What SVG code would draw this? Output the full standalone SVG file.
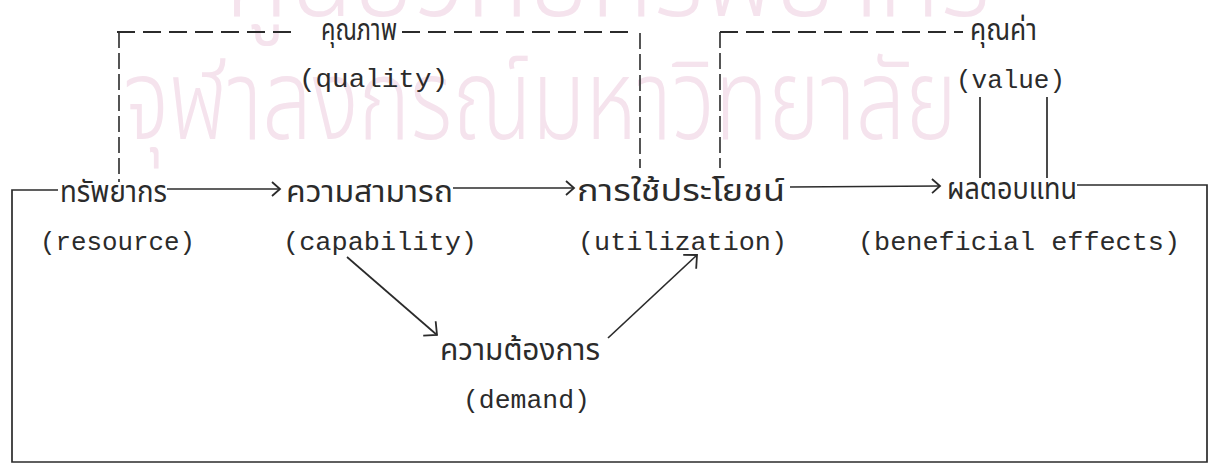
<svg xmlns="http://www.w3.org/2000/svg" width="1209" height="464" viewBox="0 0 1209 464">
  <style>
    .th { font-family: "TlwgTypewriter", "Tlwg Typewriter", "Noto Sans Thai", "Loma", "Garuda", "Noto Sans", sans-serif; font-size: 30px; fill: #2b2b2b; }
    .en { font-family: "Liberation Mono", "Courier New", monospace; font-size: 26px; fill: #2b2b2b; }
    .wm { font-family: "Noto Sans Thai", "Loma", "Garuda", "Noto Sans", sans-serif; font-size: 112px; font-weight: 300; fill: #f5e3ed; }
    .ln { fill: none; stroke: #2b2b2b; stroke-width: 1.7; }
    .dh { fill: none; stroke: #2b2b2b; stroke-width: 1.8; stroke-dasharray: 18 8; }
    .dv { fill: none; stroke: #2b2b2b; stroke-width: 1.6; stroke-dasharray: 16 5; }
  </style>
  <defs>
    <marker id="ah" markerUnits="userSpaceOnUse" markerWidth="20" markerHeight="20" refX="0" refY="0" viewBox="-12 -10 14 20" orient="auto">
      <path d="M-8,-7 L0,0 L-8,7" fill="none" stroke="#2b2b2b" stroke-width="1.8"/>
    </marker>
    <marker id="ahd" markerUnits="userSpaceOnUse" markerWidth="24" markerHeight="24" refX="0" refY="0" viewBox="-14 -12 16 24" orient="auto">
      <path d="M-10,-9.5 L0,0 L-10,9.5" fill="none" stroke="#2b2b2b" stroke-width="1.8"/>
    </marker>
  </defs>
  <rect width="1209" height="464" fill="#ffffff"/>

  <g id="watermark">
    <text class="wm" x="225" y="16" textLength="765" lengthAdjust="spacingAndGlyphs">ศูนย์วิทยทรัพยากร</text>
    <text class="wm" x="123" y="139" textLength="834" lengthAdjust="spacingAndGlyphs">จุฬาลงกรณ์มหาวิทยาลัย</text>
  </g>

  <g id="connectors">
    <path class="ln" d="M58,190 L12,190 L12,462 L1207,462 L1207,185 L1077,185"/>
    <path class="ln" d="M167,189 L280,189" marker-end="url(#ah)"/>
    <path class="ln" d="M453,188 L574,188" marker-end="url(#ah)"/>
    <path class="ln" d="M790,187 L940,186" marker-end="url(#ah)"/>
    <path class="ln" d="M347,257 L437,335" marker-end="url(#ahd)"/>
    <path class="ln" d="M608,338 L697,255" marker-end="url(#ahd)"/>
    <path class="dh" d="M117,32 L295,32"/>
    <path class="dh" d="M402,32 L634,32"/>
    <path class="dh" d="M720,32 L963,32"/>
    <path class="dv" d="M119,32 L119,182"/>
    <path class="dv" d="M640,33 L640,168"/>
    <path class="dv" d="M720,32 L720,168"/>
    <path class="ln" d="M980,97 L980,178"/>
    <path class="ln" d="M1047,97 L1047,178"/>
  </g>

  <g id="node-resource">
    <text class="th" x="60" y="202" textLength="107" lengthAdjust="spacingAndGlyphs">ทรัพยากร</text>
    <text class="en" x="40" y="250" textLength="155" lengthAdjust="spacingAndGlyphs">(resource)</text>
  </g>
  <g id="node-capability">
    <text class="th" x="286" y="202" textLength="167" lengthAdjust="spacingAndGlyphs">ความสามารถ</text>
    <text class="en" x="283" y="250" textLength="194" lengthAdjust="spacingAndGlyphs">(capability)</text>
  </g>
  <g id="node-utilization">
    <text class="th" x="577" y="201" textLength="208" lengthAdjust="spacingAndGlyphs">การใช้ประโยชน์</text>
    <text class="en" x="578" y="250" textLength="209" lengthAdjust="spacingAndGlyphs">(utilization)</text>
  </g>
  <g id="node-beneficial">
    <text class="th" x="947" y="199" textLength="130" lengthAdjust="spacingAndGlyphs">ผลตอบแทน</text>
    <text class="en" x="858" y="250" textLength="322" lengthAdjust="spacingAndGlyphs">(beneficial effects)</text>
  </g>
  <g id="node-demand">
    <text class="th" x="440" y="360" textLength="160" lengthAdjust="spacingAndGlyphs">ความต้องการ</text>
    <text class="en" x="463" y="408" textLength="127" lengthAdjust="spacingAndGlyphs">(demand)</text>
  </g>
  <g id="node-quality">
    <text class="th" x="321" y="40" textLength="76" lengthAdjust="spacingAndGlyphs">คุณภาพ</text>
    <text class="en" x="299" y="87" textLength="149" lengthAdjust="spacingAndGlyphs">(quality)</text>
  </g>
  <g id="node-value">
    <text class="th" x="970" y="40" textLength="67" lengthAdjust="spacingAndGlyphs">คุณค่า</text>
    <text class="en" x="956" y="88" textLength="109" lengthAdjust="spacingAndGlyphs">(value)</text>
  </g>
</svg>
